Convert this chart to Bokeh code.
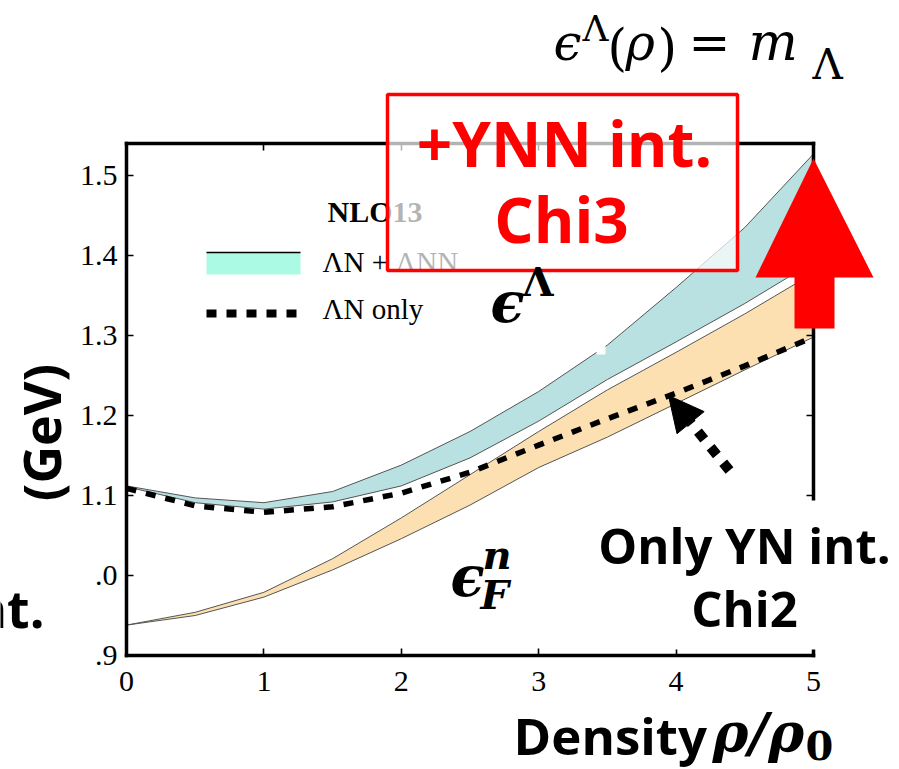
from math import pi

from bokeh.embed import file_html
from bokeh.models import (Arrow, BoxAnnotation, ColumnDataSource, FixedTicker, Label,
                          LinearAxis, NormalHead, PolyAnnotation, Range1d)
from bokeh.plotting import figure
from bokeh.resources import INLINE

# ---- data: single-particle energies vs. density (GeV) ----
density = [0.0, 0.5, 1.0, 1.5, 2.0, 2.5, 3.0, 3.5, 4.0, 4.5, 5.0]
lam_ynn_upper = [1.112, 1.097, 1.091, 1.105, 1.138, 1.180, 1.230, 1.288, 1.360, 1.435, 1.527]
lam_ynn_lower = [1.111, 1.091, 1.083, 1.092, 1.112, 1.147, 1.193, 1.245, 1.292, 1.340, 1.392]
lam_yn_only = [1.109, 1.087, 1.079, 1.086, 1.103, 1.129, 1.163, 1.196, 1.228, 1.262, 1.298]
neutron_upper = [0.938, 0.954, 0.979, 1.021, 1.072, 1.126, 1.180, 1.232, 1.279, 1.327, 1.378]
neutron_lower = [0.938, 0.950, 0.973, 1.007, 1.046, 1.088, 1.135, 1.173, 1.215, 1.257, 1.298]

x_ticks = [0, 1, 2, 3, 4, 5]
y_ticks = [0.9, 1.0, 1.1, 1.2, 1.3, 1.4, 1.5]
y_tick_labels = [".9", ".0", "1.1", "1.2", "1.3", "1.4", "1.5"]

# ---- canvas geometry: the axes box sits inside a full-canvas frame ----
W, H = 899, 769
BL, BR, BT, BB = 126, 813, 143, 655          # axes box edges in canvas pixels
XMIN, XMAX, YMIN, YMAX = 0.0, 5.0, 0.9, 1.54


def dx(px):
    """canvas pixel column -> data x"""
    return XMIN + (px - BL) * (XMAX - XMIN) / (BR - BL)


def dy(py):
    """canvas pixel row -> data y"""
    return YMIN + (BB - py) * (YMAX - YMIN) / (BB - BT)


p = figure(width=W, height=H, x_range=Range1d(dx(0), dx(W)), y_range=Range1d(dy(H), dy(0)),
           output_backend="svg", toolbar_location=None,
           x_axis_location=None, y_axis_location=None, min_border=0)
p.min_border_left = p.min_border_right = p.min_border_top = p.min_border_bottom = 0
p.outline_line_color = None
p.background_fill_color = "white"
p.border_fill_color = "white"
p.xgrid.visible = False
p.ygrid.visible = False

ax_left = LinearAxis(fixed_location=XMIN, bounds=(YMIN, YMAX), ticker=FixedTicker(ticks=y_ticks))
ax_right = LinearAxis(fixed_location=XMAX, bounds=(YMIN, YMAX), ticker=FixedTicker(ticks=y_ticks))
ax_below = LinearAxis(fixed_location=YMIN, bounds=(XMIN, XMAX), ticker=FixedTicker(ticks=x_ticks))
ax_above = LinearAxis(fixed_location=YMAX, bounds=(XMIN, XMAX), ticker=FixedTicker(ticks=x_ticks))
p.add_layout(ax_left, "left")
p.add_layout(ax_right, "right")
p.add_layout(ax_below, "below")
p.add_layout(ax_above, "above")

for ax in (ax_left, ax_right, ax_below, ax_above):
    ax.axis_line_width = 3.5
    ax.axis_line_color = "black"
    ax.axis_line_cap = "square"
    ax.major_tick_in = 7
    ax.major_tick_out = 0
    ax.major_tick_line_width = 1.6
    ax.minor_tick_line_color = None
    ax.major_label_text_font = "Liberation Serif"
    ax.major_label_text_font_size = "30px"
    ax.major_label_text_color = "black"

ax_below.major_label_standoff = 16
ax_left.major_label_standoff = 9
ax_left.major_label_overrides = dict(zip(y_ticks, y_tick_labels))
ax_right.major_label_overrides = {t: "" for t in y_ticks}
ax_above.major_label_overrides = {t: "" for t in x_ticks}

src = ColumnDataSource(dict(x=density, lam_hi=lam_ynn_upper, lam_lo=lam_ynn_lower,
                            lam_yn=lam_yn_only, n_hi=neutron_upper, n_lo=neutron_lower))

# neutron Fermi energy band
p.varea(x="x", y1="n_lo", y2="n_hi", source=src, fill_color="#fde0b2")
p.line("x", "n_hi", source=src, line_color="#555555", line_width=1)
p.line("x", "n_lo", source=src, line_color="#555555", line_width=1)

# Lambda single-particle energy with three-body force
p.varea(x="x", y1="lam_lo", y2="lam_hi", source=src, fill_color="#b9e1e1")
p.line("x", "lam_hi", source=src, line_color="#555555", line_width=1)
p.line("x", "lam_lo", source=src, line_color="#555555", line_width=1)

# Lambda with two-body force only
p.line("x", "lam_yn", source=src, line_color="black", line_width=5.5,
       line_dash="10 10", line_cap="butt")


def label(px, py, text, size, font="Open Sans", style="bold", color="black",
          align="left", baseline="alphabetic", angle=0.0, level="overlay"):
    # the alphabetic anchor lands near mid-cap here, so lift it to put the
    # baseline on row py
    if baseline == "alphabetic":
        py = py - 0.39 * size
    p.add_layout(Label(x=dx(px), y=dy(py), text=text, text_font=font,
                       text_font_size=f"{size}px", text_font_style=style,
                       text_color=color, text_align=align, text_baseline=baseline,
                       angle=angle, level=level))


def box(l, r, t, b, color, alpha=1.0, line_color=None, line_width=1.0, level="annotation"):
    p.add_layout(BoxAnnotation(left=dx(l), right=dx(r), top=dy(t), bottom=dy(b),
                               fill_color=color, fill_alpha=alpha,
                               line_color=line_color, line_alpha=1.0,
                               line_width=line_width, level=level))


def stroke(x0, y0, x1, y1, width, dash="solid", head=None):
    p.add_layout(Arrow(end=head, x_start=dx(x0), y_start=dy(y0), x_end=dx(x1), y_end=dy(y1),
                       line_color="black", line_width=width, line_dash=dash,
                       line_cap="butt", level="annotation"))


# legend
label(327, 223, "NLO13", 30, font="Liberation Serif", level="annotation")
box(206, 300, 252, 274, "#aafae4")
stroke(206, 252, 300, 252, 1.5)
label(322, 273, "ΛN + ΛNN", 29, font="Liberation Serif", style="normal", level="annotation")
stroke(206, 313, 301, 313, 8, dash="10 10")
label(322, 320, "ΛN only", 29, font="Liberation Serif", style="normal", level="annotation")

# small white notch on the band
box(596, 605, 343, 354, "white")

# curve names
label(490, 323, "ϵ", 56, font="DejaVu Serif", style="bold italic")
label(522, 297, "Λ", 40, font="DejaVu Serif", style="bold")
label(450, 597, "ϵ", 56, font="DejaVu Serif", style="bold italic")
label(482, 570, "n", 40, font="DejaVu Serif", style="bold italic")
label(480, 610, "F", 40, font="DejaVu Serif", style="bold italic")

# red call-out: with three-baryon force
box(387, 737, 94, 270, "white", alpha=0.7, line_color="red", line_width=3.5)
label(564, 167, "+YNN int.", 62, color="red", align="center")
label(561, 243, "Chi3", 62, color="red", align="center")
p.add_layout(PolyAnnotation(
    xs=[dx(813), dx(873), dx(834), dx(834), dx(794), dx(794), dx(755)],
    ys=[dy(158), dy(277), dy(277), dy(328), dy(328), dy(277), dy(277)],
    fill_color="red", fill_alpha=1.0, line_color=None, level="annotation"))

# black call-out: two-body only
stroke(729, 470, 668, 395, 10, dash="10 10",
       head=NormalHead(size=35, fill_color="black", line_color="black", line_width=1))
box(590, 899, 500, 649, "white")
label(744, 564, "Only YN int.", 49, align="center")
label(744, 627, "Chi2", 49, align="center")

# condition in the top corner
label(553, 62, "ϵ", 50, font="DejaVu Serif", style="italic")
label(582, 42, "Λ", 36, font="DejaVu Serif", style="normal")
label(607, 67, "(", 50, font="DejaVu Serif", style="normal")
label(625, 62, "ρ", 50, font="DejaVu Serif", style="italic")
label(657, 67, ")", 50, font="DejaVu Serif", style="normal")
label(688, 62, "=", 50, font="DejaVu Serif", style="normal")
label(748, 62, "m", 52, font="DejaVu Serif", style="italic")
label(812, 80, "Λ", 42, font="DejaVu Serif", style="normal")

# axis titles
label(513, 754, "Density", 51)
label(712, 754, "ρ/ρ", 54, font="DejaVu Serif", style="bold italic")
label(805, 761, "0", 40, font="DejaVu Serif", style="bold")
label(40, 432, "(GeV)", 52, align="center", baseline="middle", angle=pi / 2)
label(44, 627, "nt.", 52, align="right")

with open("out.html", "w") as f:
    f.write(file_html(p, INLINE))
